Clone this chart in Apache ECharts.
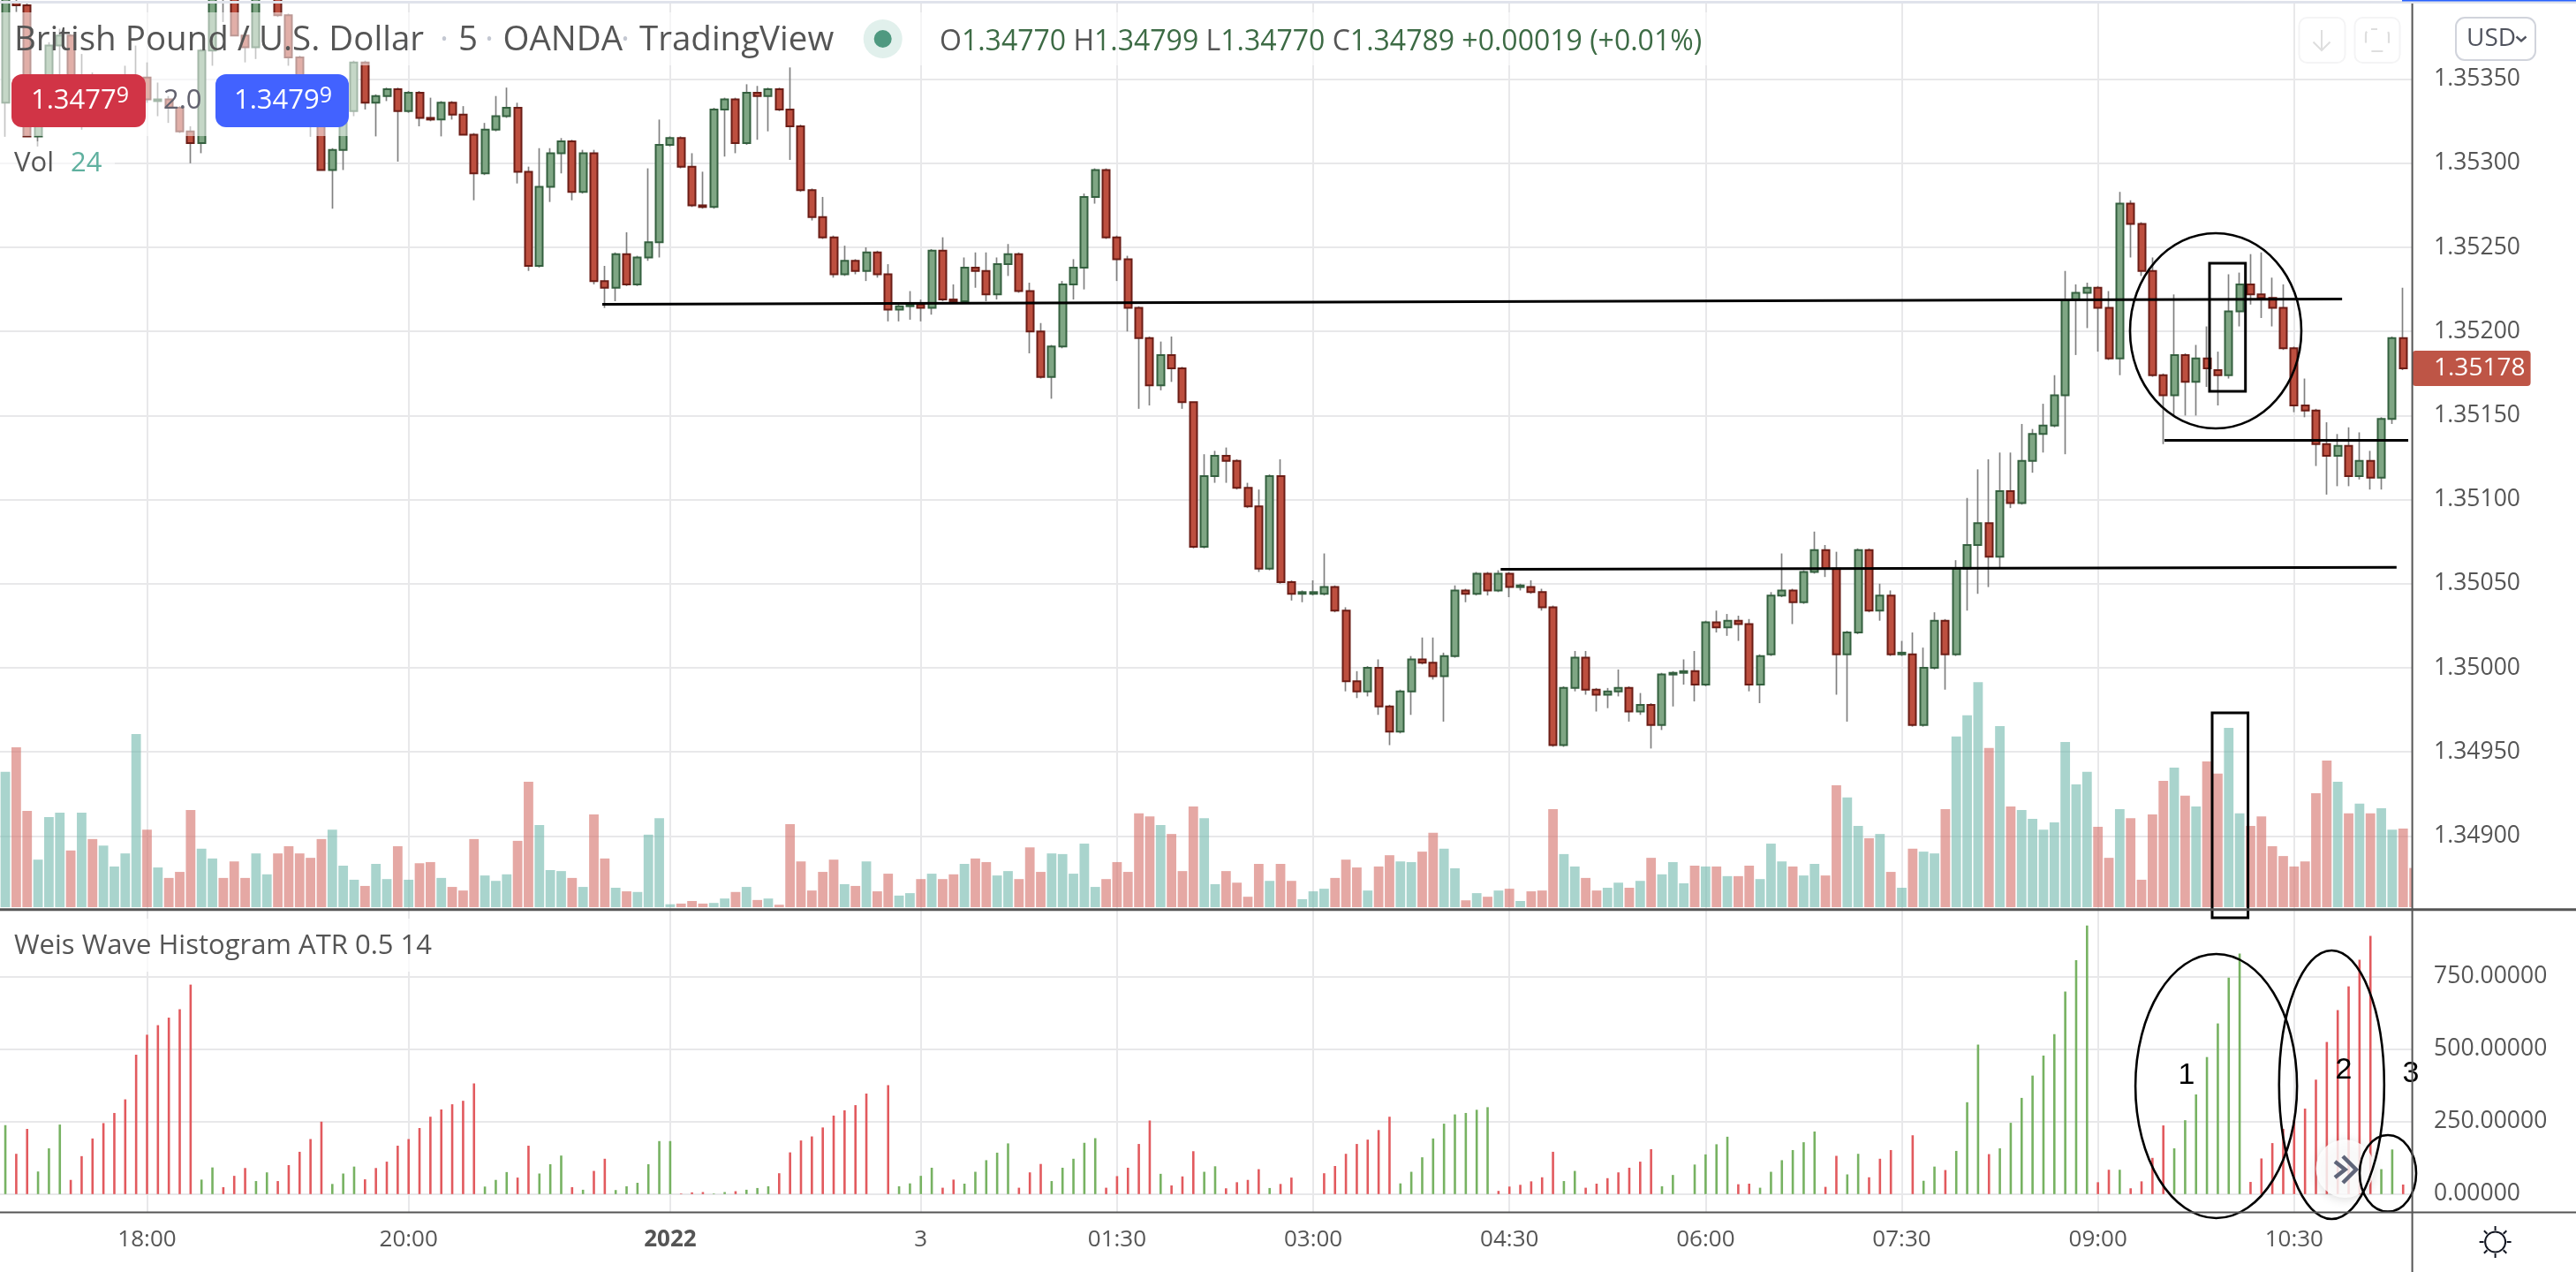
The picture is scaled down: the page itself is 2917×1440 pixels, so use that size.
<!DOCTYPE html>
<html>
<head>
<meta charset="utf-8">
<style>html,body{margin:0;padding:0;background:#fff}#c{width:2917px;height:1440px}</style>
<script src="https://cdn.jsdelivr.net/npm/echarts@6/dist/echarts.min.js"></script>
</head>
<body>
<div id="c"></div>
<script>
// Bar positions: 5-minute bars numbered from the left edge. Prices in 1e-5 units.
const opens = [135336,135396,135394,135316,135340,135370,135376,135327,135332,135325,135328,135332,135337,135351,135337,135338,135333,135319,135312,135367,135405,135402,135376,135369,135402,135407,135388,135363,135345,135327,135296,135308,135331,135360,135336,135340,135344,135331,135342,135327,135326,
135336,135329,135317,135294,135320,135328,135333,135295,135239,135286,135306,135313,135283,135306,135230,135226,135246,135228,135244,135253,135311,135315,135298,135275,135274,135332,135338,135312,135342,135340,135344,135332,135322,135284,135268,135256,135234,135242,135236,135247,
135234,135213,135215,135216,135214,135248,135219,135218,135238,135236,135222,135240,135246,135224,135200,135173,135191,135228,135238,135280,135296,135256,135243,135214,135196,135168,135186,135178,135158,135072,135114,135126,135123,135107,135096,135059,135114,135051,135044,135044,135044,135048,135034,134992,134986,135000,134977,134962,134986,135005,135003,134995,135007,135046,135044,135056,135046,135056,135048,135048,135045,135036,134954,134988,135006,134987,134984,134986,134988,134974,134978,134966,134996,134997,134998,134990,135027,135024,135028,135026,134990,
135008,135043,135046,135039,135057,135070,135059,135008,135021,135070,135034,135043,135008,135008,134966,135000,135028,135008,135059,135073,135086,135066,135105,135098,135123,135139,135144,135162,135219,135223,135226,135214,135184,135276,135264,135236,135174,135162,135186,135170,135184,135177,135174,135212,135228,135222,135220,135214,135190,135156,135153,135133,135126,135132,135114,135123,135113,135148,135196];
const closes = [135400,135394,135316,135340,135370,135376,135327,135332,135325,135328,135332,135337,135351,135338,135338,135333,135319,135312,135367,135405,135402,135376,135369,135402,135407,135388,135363,135345,135327,135296,135308,135331,135360,135336,135340,135344,135331,135342,135327,135326,135336,
135329,135317,135294,135320,135328,135333,135295,135239,135286,135306,135313,135283,135306,135230,135226,135246,135228,135244,135253,135311,135315,135298,135275,135274,135332,135338,135312,135342,135340,135344,135332,135322,135284,135268,135256,135234,135242,135236,135247,135234,
135213,135215,135216,135214,135248,135219,135218,135238,135236,135222,135240,135246,135224,135200,135173,135191,135228,135238,135280,135296,135256,135243,135214,135196,135168,135186,135178,135158,135072,135114,135126,135123,135107,135096,135059,135114,135051,135044,135045,135045,135048,135034,134992,134986,135000,134977,134962,134986,135005,135003,134995,135007,135046,135044,135056,135046,135056,135048,135049,135045,135036,134954,134988,135006,134987,134984,134986,134988,134974,134978,134966,134996,134997,134998,134990,135027,135024,135028,135026,134990,135007,
135043,135046,135039,135057,135070,135059,135008,135021,135070,135034,135043,135008,135009,134966,135000,135028,135008,135059,135073,135086,135066,135105,135098,135123,135139,135144,135162,135219,135223,135226,135214,135184,135276,135264,135236,135174,135162,135186,135170,135184,135178,135174,135212,135228,135222,135220,135214,135190,135156,135153,135133,135126,135132,135114,135123,135113,135148,135196,135178];
const lows = [135316,135390,135316,135310,135335,135353,135325,135320,135322,135323,135326,135330,135335,135336,135328,135324,135318,135300,135306,135358,135384,135376,135360,135362,135398,135387,135358,135344,135316,135296,135273,135296,135328,135332,135316,135337,135301,135330,135322,135325,135316,
135326,135317,135278,135293,135319,135327,135288,135236,135238,135277,135294,135278,135282,135228,135214,135218,135227,135227,135242,135244,135310,135297,135274,135273,135273,135304,135306,135311,135314,135319,135331,135302,135283,135266,135255,135232,135233,135234,135230,135232,
135206,135206,135207,135206,135210,135218,135217,135217,135226,135218,135219,135233,135223,135187,135172,135160,135190,135219,135225,135276,135255,135230,135200,135154,135156,135165,135170,135154,135071,135071,135110,135110,135106,135095,135057,135058,135050,135040,135039,135043,135043,135033,134986,134982,134983,134972,134954,134961,134972,135002,134993,134968,135006,135039,135043,135043,135045,135042,135046,135044,135034,134953,134953,134986,134984,134974,134976,134983,134968,134972,134952,134963,134977,134990,134980,134989,135021,135019,135016,134986,134979,
135007,135042,135026,135038,135056,135054,134984,134968,135020,135033,135028,135007,135007,134965,134965,134999,134987,135007,135034,135044,135048,135059,135095,135097,135116,135128,135143,135127,135186,135202,135188,135183,135174,135244,135233,135173,135133,135150,135150,135150,135167,135156,135172,135203,135216,135208,135203,135189,135152,135149,135120,135103,135108,135108,135112,135106,135106,135145,135177];
const highs = [135405,135398,135395,135345,135372,135380,135377,135365,135354,135340,135336,135358,135370,135360,135348,135340,135334,135322,135368,135407,135409,135404,135377,135404,135410,135409,135389,135364,135346,135328,135309,135332,135361,135361,135341,135345,135345,135343,135343,135339,135337,
135337,135334,135318,135324,135340,135345,135336,135298,135309,135309,135315,135314,135308,135308,135239,135247,135259,135245,135297,135326,135316,135316,135306,135295,135333,135339,135339,135347,135346,135345,135345,135357,135323,135285,135280,135257,135251,135243,135250,135248,
135240,135216,135224,135219,135249,135256,135228,135244,135247,135247,135244,135252,135247,135229,135205,135192,135230,135243,135282,135297,135297,135257,135245,135215,135197,135194,135197,135179,135158,135127,135129,135131,135124,135110,135106,135115,135124,135052,135046,135052,135068,135049,135036,134998,135001,135005,134978,134987,135007,135018,135018,135009,135049,135047,135057,135057,135058,135057,135050,135052,135047,135037,134989,135010,135010,134988,134988,134999,134989,134985,134979,134997,134998,135005,135010,135028,135034,135032,135031,135029,135008,
135045,135068,135047,135058,135081,135073,135069,135022,135071,135071,135050,135046,135016,135021,135012,135033,135029,135064,135101,135118,135124,135128,135128,135145,135142,135157,135174,135236,135228,135229,135227,135224,135283,135278,135265,135244,135175,135222,135187,135192,135203,135188,135234,135235,135246,135247,135232,135228,135191,135172,135154,135146,135139,135143,135140,135129,135149,135197,135226];
// Volume per bar; the last entry is the bar cut off by the price scale.
const volumes = [82.8,97.8,58.9,29.1,55.2,57.8,34.7,57.8,41.7,37.7,24.9,32.9,106,47.5,24.3,17.9,21.6,59.4,35.8,29.8,17.9,28,17.9,32.9,20.1,32.9,37.3,32.9,30.2,41.7,47.5,25.4,16.8,13,26.5,17.2,37.3,16.8,26.9,27.6,17.9,12.4,10.2,41.7,19.4,16.1,20.1,40.6,76.8,50.3,22.7,22.1,17.9,12.4,56.7,29.8,11.9,9.7,9.3,44.4,54.5,1.8,2.2,3.8,2.2,2.6,5.3,9.3,12.4,4.4,5.3,1.5,50.8,28,10.2,21.6,29.1,14.1,13,28,9.7,
20.5,7.1,8.6,17.2,20.5,17.2,20.1,26.5,29.8,27.6,19.4,22.1,17.2,36.6,21.6,32.9,32.5,20.5,38.9,12.4,17.2,27.6,21.6,57.4,55.6,50.3,44.8,22.1,61.6,54.5,14.1,22.1,15,6.4,26.5,16.1,26.5,16.1,4.9,9.7,11.3,17.9,29.1,24.3,10.2,24.9,31.8,28,27.6,34,45.5,35.8,23.8,4.2,8.6,6.4,10.2,11.3,3.8,9.7,10.2,60,32.5,24.9,17.9,10.2,11.9,15,11.9,16.1,30.2,20.1,27.6,14.6,25.4,24.9,24.9,19,19,25.4,17.2,
38.9,28,24.9,19.4,26.5,19.4,74.6,67.1,49.7,42.2,44.8,21.6,11.9,35.8,34,32.9,60,104.4,117.4,137.7,97.4,110.8,61.6,59.4,54.1,47.5,51.9,101.1,75.1,82.8,49.2,30.2,60,54.5,16.8,56.7,77.3,85.4,68.2,61.6,89.2,81.7,109.7,57.4,49.7,55.6,37.3,31.3,24.9,28,69.8,89.8,76.8,57.4,63.4,57.4,60.5,47.5,48.1,24];
// Weis wave size; positive = up wave (green), negative = down wave (red).
const weisWave = [238,-139,-225,78,158,240,-49,-131,-192,-245,-280,-327,-481,-550,-583,-609,-638,-723,50,92,-24,-63,-90,45,75,-45,-100,-146,-190,-250,35,71,95,-51,-90,-112,-167,-190,-228,-267,-292,-310,-322,-382,26,49,76,-57,-167,71,103,133,-24,15,-80,-122,14,27,39,103,183,183,-2,-6,-7,2,7,-10,15,21,27,-72,-144,-185,-199,-230,-271,-289,-307,-347,0,
-376,27,37,63,91,-22,-50,36,77,117,143,175,-22,-75,-104,45,91,122,177,193,-22,-62,-91,-173,-254,70,-30,-61,-148,77,96,-20,-41,-49,-86,21,-35,-57,0,0,-72,-97,-139,-173,-188,-221,-267,37,77,127,192,243,275,280,291,300,-11,-26,-32,-44,-58,-146,45,80,-22,-36,-55,-75,-91,-112,-155,27,66,0,102,137,172,198,-34,-36,22,
77,117,152,179,216,-25,-132,68,139,-58,-122,-152,0,-203,46,95,-83,149,317,516,-138,158,246,332,409,478,552,699,807,927,-41,-84,84,-20,-44,-125,-237,158,255,344,473,589,747,830,-42,-123,-176,-225,-255,-295,-395,-525,-635,-717,-809,-891,86,154,-33];
// Time axis
const timeTickBars = [13,37,61,84,102,120,138,156,174,192,210];
const timeTickLabels = ['18:00','20:00','2022','3','01:30','03:00','04:30','06:00','07:30','09:00','10:30'];
// Value axes
const priceTicks = [1.349,1.3495,1.35,1.3505,1.351,1.3515,1.352,1.3525,1.353,1.3535];
const weisTicks = [0,250,500,750];
// Hand-drawn horizontal levels: [bar, price]
const levelA = [[54.77,1.352162],[214.4,1.352193]];
const levelB = [[137.2,1.350586],[219.4,1.350597]];
const levelC = [[198.1,1.351353],[220.47,1.351353]];

const UI = '"Open Sans","Noto Sans",sans-serif';
const INK = '#555555', GRID = '#E8E8EA';
const RED_F='#BD4F3F', RED_B='#6B1D16', GRN_F='#7FA684', GRN_B='#34603F', WICK='#808080';
const PANE_R = 2731.6;
const xMin = -0.4902, xMax = 220.84;

const isUp = i => i < closes.length ? closes[i] >= opens[i] : false;

const chart = echarts.init(document.getElementById('c'), null, {renderer:'canvas', width:2917, height:1440});

const wickData = opens.map((o,i)=>[i,o/1e5,closes[i]/1e5,lows[i]/1e5,highs[i]/1e5]);
const bodyData = opens.map((o,i)=>[i,o/1e5,closes[i]/1e5,Math.min(o,closes[i])/1e5,Math.max(o,closes[i])/1e5]);
const volData = volumes.map((v,i)=>({value:[i,v],itemStyle:{color:isUp(i)?'rgba(112,183,172,.6)':'rgba(212,110,103,.6)'}}));
const weisData = weisWave.map((v,i)=>({value:[i,Math.abs(v)],itemStyle:{color:v>0?'#77B262':'#E25A5E'}}));

const xCommon = {type:'value',min:xMin,max:xMax,axisLine:{show:false},
  axisTick:{show:false,customValues:timeTickBars},
  splitLine:{show:true,lineStyle:{color:GRID,width:2}}};
const yCommon = {type:'value',position:'right',axisLine:{show:false},axisTick:{show:false},
  splitLine:{show:true,lineStyle:{color:GRID,width:2}}};

function txt(x,y,text,size,fill,extra){
  return Object.assign({type:'text',z:70,silent:true,style:{x,y,text,fill,font:`${size}px ${UI}`,textAlign:'left',textVerticalAlign:'middle'}},extra||{});
}
function box(x,y,w,h,fill,r,z){return {type:'rect',z:z||60,silent:true,shape:{x,y,width:w,height:h,r:r||0},style:{fill}};}
function seg(x1,y1,x2,y2,stroke,w,z){return {type:'line',z:z||90,silent:true,shape:{x1,y1,x2,y2},style:{stroke,lineWidth:w}};}
function ell(cx,cy,rx,ry){return {type:'ellipse',z:85,silent:true,shape:{cx,cy,rx,ry},style:{fill:null,stroke:'#000',lineWidth:2.6}};}
function rectOutline(x,y,w,h){return {type:'rect',z:85,silent:true,shape:{x,y,width:w,height:h},style:{fill:null,stroke:'#000',lineWidth:3}};}

const sunRays=[];
for(let k=0;k<8;k++){const a=k*Math.PI/4;
  sunRays.push(seg(2825.6+Math.cos(a)*13,1406+Math.sin(a)*13,2825.6+Math.cos(a)*18,1406+Math.sin(a)*18,'#131722',2));}

const graphics = [
  // legend backdrops
  box(0,14,1950,60,'rgba(255,255,255,.55)'),
  box(0,74,407,80,'rgba(255,255,255,.55)'),
  box(0,160,130,45,'rgba(255,255,255,.55)'),
  box(0,1040,500,60,'rgba(255,255,255,.75)'),
  // clips the partial volume bar at the price scale
  box(PANE_R,975,16,53,'#fff',0,61),
  // top strip
  box(0,1,2917,3,'#E0E3EB',0,65),
  box(2720,0,197,1.6,'#2962FF',0,66),
  // frame
  seg(PANE_R,4,PANE_R,1440,'#555',2),
  seg(0,1029.8,2917,1029.8,'#555',3),
  seg(0,1372.6,2917,1372.6,'#555',2),
  // legend
  txt(16,46,'British Pound / U.S. Dollar',38.5,INK),
  txt(498,46,'·',38,'#C4C8D2'),
  txt(519,46,'5',38.5,INK),
  txt(549,46,'·',38,'#C4C8D2'),
  txt(569.5,46,'OANDA',38.5,INK),
  txt(703,46,'·',38,'#C4C8D2'),
  txt(724,46,'TradingView',38.5,INK),
  {type:'circle',z:70,silent:true,shape:{cx:999.7,cy:44,r:22},style:{fill:'#E1F0EC'}},
  {type:'circle',z:71,silent:true,shape:{cx:999.7,cy:44,r:10},style:{fill:'#4F9980'}},
  {type:'text',z:70,silent:true,style:{x:1064,y:48,textAlign:'left',textVerticalAlign:'middle',font:`32px ${UI}`,
    rich:{k:{fill:INK,font:`32px ${UI}`},v:{fill:'#3D6B45',font:`32px ${UI}`}},
    text:'{k|O}{v|1.34770} {k|H}{v|1.34799} {k|L}{v|1.34770} {k|C}{v|1.34789} {v|+0.00019 (+0.01%)}'}},
  box(13,84,152,60,'#D13446',12,72),
  box(244,84,151,60,'#4262FF',12,72),
  {type:'text',z:73,silent:true,style:{x:35,y:114,textAlign:'left',textVerticalAlign:'middle',font:`31px ${UI}`,
    rich:{a:{fill:'#fff',font:`31px ${UI}`},b:{fill:'#fff',font:`25px ${UI}`,padding:[0,0,10,0]}},text:'{a|1.3477}{b|9}'}},
  {type:'text',z:73,silent:true,style:{x:265,y:114,textAlign:'left',textVerticalAlign:'middle',font:`31px ${UI}`,
    rich:{a:{fill:'#fff',font:`31px ${UI}`},b:{fill:'#fff',font:`25px ${UI}`,padding:[0,0,10,0]}},text:'{a|1.3479}{b|9}'}},
  txt(185,114,'2.0',31,'#62626F'),
  txt(16,185,'Vol',31,INK),
  txt(80,185,'24',31,'#5FB09F'),
  txt(16,1071,'Weis Wave Histogram ATR 0.5 14',31,INK),
  // price tag
  box(PANE_R,397,134,40,'#BE5546',4,72),
  txt(2756,417,'1.35178',28,'#fff',{z:73}),
  // drawn shapes
  ell(2509,374.5,97,110.5),
  rectOutline(2502,298,40.7,145),
  rectOutline(2505,807,40.6,232),
  ell(2509.6,1229.5,91.5,149.5),
  ell(2640.3,1228,59.5,152),
  ell(2704,1328.3,32,43.3),
  {type:'text',z:86,silent:true,style:{x:2476,y:1218,text:'1',textAlign:'center',textVerticalAlign:'middle',fill:'#000',font:'34px "Liberation Sans"'}},
  {type:'text',z:86,silent:true,style:{x:2654,y:1212,text:'2',textAlign:'center',textVerticalAlign:'middle',fill:'#000',font:'34px "Liberation Sans"'}},
  {type:'text',z:86,silent:true,style:{x:2730,y:1216,text:'3',textAlign:'center',textVerticalAlign:'middle',fill:'#000',font:'34px "Liberation Sans"'}},
  // scroll button
  {type:'circle',z:80,silent:true,shape:{cx:2655.5,cy:1323,r:33},style:{fill:'rgba(255,255,255,.82)',shadowBlur:12,shadowColor:'rgba(0,0,0,.16)',shadowOffsetY:2}},
  {type:'polyline',z:81,silent:true,shape:{points:[[2644,1315],[2655.5,1324],[2644,1333]]},style:{fill:null,stroke:'#5F6579',lineWidth:4.5}},
  {type:'polyline',z:81,silent:true,shape:{points:[[2653,1309],[2668,1324],[2653,1339]]},style:{fill:null,stroke:'#5F6579',lineWidth:4.5}},
  // top-right toolbar
  {type:'rect',z:70,silent:true,shape:{x:2603.5,y:20,width:52,height:51,r:9},style:{fill:'rgba(255,255,255,.5)',stroke:'#F4F4F5',lineWidth:2}},
  {type:'rect',z:70,silent:true,shape:{x:2666.5,y:20,width:51,height:51,r:9},style:{fill:'rgba(255,255,255,.5)',stroke:'#F4F4F5',lineWidth:2}},
  seg(2629,34,2629,57,'#DEDEDE',2,71),
  {type:'polyline',z:71,silent:true,shape:{points:[[2619.5,47.5],[2629,57],[2638.5,47.5]]},style:{fill:null,stroke:'#DEDEDE',lineWidth:2}},
  {type:'rect',z:71,silent:true,shape:{x:2679,y:33,width:26,height:25,r:6},style:{fill:null,stroke:'#DEDEDE',lineWidth:2.2,lineDash:[13,13],lineDashOffset:6}},
  {type:'rect',z:70,silent:true,shape:{x:2781,y:20,width:90,height:48,r:10},style:{fill:'#fff',stroke:'#D1D4DC',lineWidth:2}},
  txt(2793,44,'USD',28,'#50535E'),
  {type:'polyline',z:71,silent:true,shape:{points:[[2849.5,41.5],[2855,46.5],[2860.5,41.5]]},style:{fill:null,stroke:'#50535E',lineWidth:2.4}},
  // settings icon
  {type:'circle',z:70,silent:true,shape:{cx:2825.6,cy:1406,r:11.5},style:{fill:'#fff',stroke:'#131722',lineWidth:2}},
  ...sunRays
];

chart.setOption({
  animation:false,
  backgroundColor:'#fff',
  textStyle:{fontFamily:UI},
  grid:[
    {left:0,top:4,width:PANE_R,height:1025,show:false},
    {left:0,top:1031,width:PANE_R,height:342,show:false}
  ],
  xAxis:[
    Object.assign({},xCommon,{gridIndex:0,axisLabel:{show:false}}),
    Object.assign({},xCommon,{gridIndex:1,axisLabel:{show:true,customValues:timeTickBars,color:INK,fontSize:26,margin:18,fontFamily:UI,
      hideOverlap:false,showMinLabel:true,showMaxLabel:true,
      formatter:v=>{const l=timeTickLabels[timeTickBars.indexOf(v)];return l==='2022'?'{b|2022}':l;},
      rich:{b:{fontWeight:'bold',fontSize:26,color:INK,fontFamily:UI}}}})
  ],
  yAxis:[
    Object.assign({},yCommon,{gridIndex:0,min:1.348566,max:1.353950,
      axisTick:{show:false,customValues:priceTicks},
      axisLabel:{customValues:priceTicks,color:INK,fontSize:26.5,margin:24.5,fontFamily:UI,formatter:v=>v.toFixed(5)}}),
    {type:'value',gridIndex:0,show:false,min:-1.08,max:553,splitLine:{show:false}},
    Object.assign({},yCommon,{gridIndex:1,min:-64.6,max:978,
      axisTick:{show:false,customValues:weisTicks},
      axisLabel:{customValues:weisTicks,color:INK,fontSize:26.5,margin:24.5,fontFamily:UI,formatter:v=>v.toFixed(5)}})
  ],
  series:[
    {name:'Vol',type:'bar',xAxisIndex:0,yAxisIndex:1,data:volData,barWidth:10.8,silent:true,z:1},
    {name:'Wick',type:'candlestick',xAxisIndex:0,yAxisIndex:0,data:wickData,barWidth:1,z:2,silent:true,
      itemStyle:{color:WICK,color0:WICK,borderColor:WICK,borderColor0:WICK,borderWidth:1.7}},
    {name:'GBPUSD',type:'candlestick',xAxisIndex:0,yAxisIndex:0,data:bodyData,barWidth:8.5,z:3,silent:true,
      itemStyle:{color:GRN_F,color0:RED_F,borderColor:GRN_B,borderColor0:RED_B,borderWidth:2}},
    ...[levelA,levelB,levelC].map(l=>({type:'line',xAxisIndex:0,yAxisIndex:0,data:l,showSymbol:false,symbol:'none',silent:true,z:4,
      lineStyle:{color:'#000',width:3}})),
    {name:'Weis Wave',type:'bar',xAxisIndex:1,yAxisIndex:2,data:weisData,barWidth:2.6,silent:true,z:2}
  ],
  graphic:{elements:graphics}
});
</script>
</body>
</html>
